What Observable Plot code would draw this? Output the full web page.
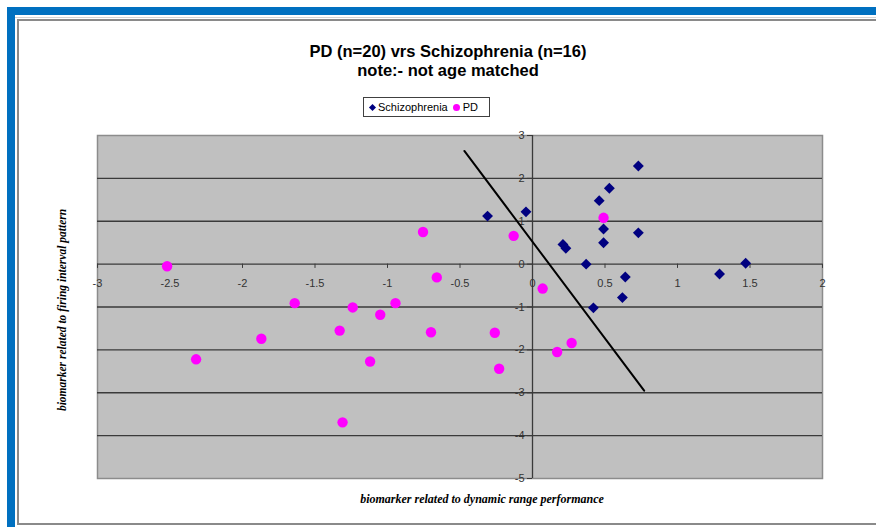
<!DOCTYPE html>
<html>
<head>
<meta charset="utf-8">
<script src="https://cdn.jsdelivr.net/npm/d3@7"></script>
<script src="https://cdn.jsdelivr.net/npm/@observablehq/plot@0.6"></script>
<style>
  html, body { margin: 0; padding: 0; background: #fff; }
  #wrap { position: relative; width: 876px; height: 527px; overflow: hidden; background: #fff; font-family: "Liberation Sans", Arial, sans-serif; }
  #blue { position: absolute; left: 7px; top: 7px; width: 900px; height: 512px; border-top: 8px solid #0070C0; border-left: 8px solid #0070C0; border-bottom: 8px solid #0070C0; box-sizing: content-box; }
  #cells { position: absolute; left: 15px; top: 15px; width: 900px; height: 2px; border-bottom: 1px solid #d4d4d4; }
  #chartbox { position: absolute; left: 17px; top: 19px; width: 900px; height: 502px; border-top: 2px solid #8a8a8a; border-left: 2px solid #8a8a8a; border-bottom: 2px solid #8a8a8a; background: #fff; }
  #title { position: absolute; left: 248px; width: 400px; text-align: center; top: 42px; font-weight: bold; font-size: 16.5px; line-height: 19px; color: #000; }
  #legend { position: absolute; left: 363px; top: 97px; width: 125px; height: 18px; border: 1px solid #404040; background: #fff; font-size: 11px; line-height: 18px; color: #000; white-space: nowrap; }
  #legend .dia { display: inline-block; width: 5px; height: 5px; background: #000080; transform: rotate(45deg); margin: 0 3px 1px 6px; }
  #legend .cir { display: inline-block; width: 7px; height: 7px; background: #FF00FF; border-radius: 50%; margin: 0 3px 0 5px; }
  #plot { position: absolute; left: 0; top: 0; }
</style>
</head>
<body>
<div id="wrap">
  <div id="blue"></div>
  <div id="cells"></div>
  <div id="chartbox"></div>
  <div id="title">PD (n=20) vrs Schizophrenia (n=16)<br>note:- not age matched</div>
  <div id="legend"><span class="dia"></span>Schizophrenia<span class="cir"></span>PD</div>
  <div id="plot"></div>
</div>
<script>
const xTicks = [-3, -2.5, -2, -1.5, -1, -0.5, 0, 0.5, 1, 1.5, 2];
const yTicks = [3, 2, 1, 0, -1, -2, -3, -4, -5];
const gridY = [2, 1, 0, -1, -2, -3, -4];

const schizX = [-0.31, -0.045, 0.73, 0.53, 0.46, 0.49, 0.73, 0.49, 0.21, 0.23, 0.37, 0.64, 1.29, 1.47, 0.62, 0.42];
const schizY = [1.12, 1.22, 2.29, 1.77, 1.48, 0.82, 0.73, 0.50, 0.46, 0.37, 0.00, -0.30, -0.23, 0.02, -0.78, -1.02];

const pdX = [-2.52, -0.755, -0.13, -0.66, -1.64, -1.24, -0.945, -1.05, -1.33, -1.87, -2.32, -1.12, -0.70, -0.26, -0.23, -1.31, 0.49, 0.07, 0.17, 0.27];
const pdY = [-0.05, 0.75, 0.66, -0.31, -0.91, -1.01, -0.91, -1.18, -1.55, -1.74, -2.22, -2.27, -1.59, -1.60, -2.44, -3.69, 1.08, -0.57, -2.05, -1.84];

const trendX = [-0.47, 0.77];
const trendY = [2.64, -2.95];

const xLabel = "biomarker related to dynamic range performance";
const yLabel = "biomarker related to firing interval pattern";

const schiz = schizX.map((x, i) => ({x, y: schizY[i]}));
const pd = pdX.map((x, i) => ({x, y: pdY[i]}));
const trend = trendX.map((x, i) => ({x, y: trendY[i]}));

const xTickLen = 0.1;   // in y data units
const yTickLen = 0.035; // in x data units

const chart = Plot.plot({
  width: 876,
  height: 527,
  marginLeft: 97,
  marginRight: 54,
  marginTop: 135,
  marginBottom: 49,
  style: {background: "transparent", fontFamily: "Liberation Sans, Arial, sans-serif"},
  x: {domain: [-3, 2], axis: null},
  y: {domain: [-5, 3], axis: null},
  marks: [
    Plot.frame({fill: "#C0C0C0", stroke: "#8c8c8c", strokeWidth: 1.5}),
    Plot.ruleY(gridY, {stroke: "#3a3a3a", strokeWidth: 1.3}),
    Plot.ruleX([0], {stroke: "#3a3a3a", strokeWidth: 1.3}),
    Plot.ruleX(xTicks, {x: d => d, y1: 0, y2: -xTickLen, stroke: "#3a3a3a", strokeWidth: 1}),
    Plot.ruleY(yTicks, {y: d => d, x1: 0, x2: -yTickLen, stroke: "#3a3a3a", strokeWidth: 1}),
    Plot.text(xTicks, {x: d => d, y: 0, text: d => String(d), dy: 19, fontSize: 11, fill: "#333"}),
    Plot.text(yTicks, {x: 0, y: d => d, text: d => String(d), dx: -8, textAnchor: "end", fontSize: 11, fill: "#333"}),
    Plot.line(trend, {x: "x", y: "y", stroke: "#000", strokeWidth: 2}),
    Plot.dot(schiz, {x: "x", y: "y", symbol: "diamond2", r: 4.9, fill: "#000080", stroke: "none"}),
    Plot.dot(pd, {x: "x", y: "y", symbol: "circle", r: 5.2, fill: "#FF00FF", stroke: "none"}),
    Plot.text([xLabel], {frameAnchor: "bottom", text: d => d, dy: 24, dx: 22, fontFamily: "Liberation Serif, Times New Roman, serif", fontWeight: "bold", fontStyle: "italic", fontSize: 12, fill: "#000"}),
    Plot.text([yLabel], {frameAnchor: "left", textAnchor: "middle", text: d => d, dx: -35, dy: 3, rotate: -90, fontFamily: "Liberation Serif, Times New Roman, serif", fontWeight: "bold", fontStyle: "italic", fontSize: 11.5, fill: "#000"})
  ]
});
document.getElementById("plot").appendChild(chart);
</script>
</body>
</html>
